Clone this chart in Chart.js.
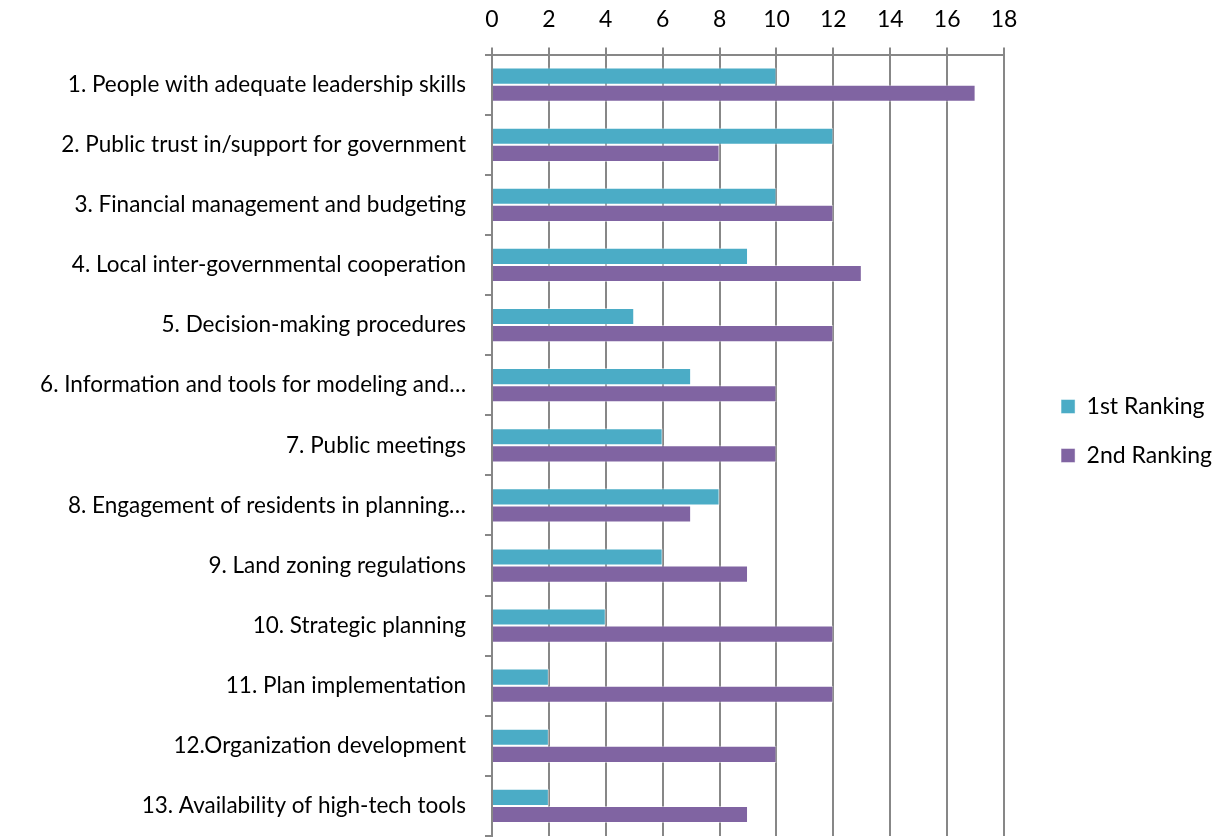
<!DOCTYPE html>
<html>
<head>
<meta charset="utf-8">
<script src="https://cdn.jsdelivr.net/npm/chart.js@4"></script>
<style>
  html, body { margin: 0; padding: 0; background: #fff; }
  #wrap { width: 1225px; height: 840px; }
</style>
</head>
<body>
<div id="wrap"><canvas id="chart"></canvas></div>
<script>
// data
var categories = [
  "1. People with adequate leadership skills",
  "2. Public trust in/support for government",
  "3. Financial management and budgeting",
  "4. Local inter-governmental cooperation",
  "5. Decision-making procedures",
  "6. Information and tools for modeling and\u2026",
  "7. Public meetings",
  "8. Engagement of residents in planning\u2026",
  "9. Land zoning regulations",
  "10. Strategic planning",
  "11. Plan implementation",
  "12.Organization development",
  "13. Availability of high-tech tools"
];
var firstRanking = [10, 12, 10, 9, 5, 7, 6, 8, 6, 4, 2, 2, 2];
var secondRanking = [17, 8, 12, 13, 12, 10, 10, 7, 9, 12, 12, 10, 9];
var xTicks = [0, 2, 4, 6, 8, 10, 12, 14, 16, 18];

var font = "Lato";
var gridGray = "#878787";

// move the legend a bit right and down inside its box, like the original
var legendShift = {
  id: 'legendShift',
  afterLayout: function (chart) {
    chart.legend.left += 31;
    chart.legend.right += 31;
    chart.legend.top += 17;
    chart.legend.bottom += 17;
  }
};

var ctx = document.getElementById("chart").getContext('2d');
var chart = new Chart(ctx, {
  type: 'bar',
  data: {
    labels: categories,
    datasets: [{
      label: "1st Ranking",
      data: firstRanking,
      backgroundColor: "#4BACC6",
      borderColor: "rgba(255,255,255,0.45)",
      borderWidth: 1
    }, {
      label: "2nd Ranking",
      data: secondRanking,
      backgroundColor: "#8064A2",
      borderColor: "rgba(255,255,255,0.45)",
      borderWidth: 1
    }]
  },
  options: {
    indexAxis: 'y',
    responsive: true,
    maintainAspectRatio: false,
    animation: false,
    categoryPercentage: 0.57,
    barPercentage: 1.0,
    layout: { padding: { top: -8, right: 34, bottom: 4, left: 0 } },
    plugins: {
      legend: {
        position: 'right',
        labels: {
          font: { family: font, size: 23 },
          color: "#000",
          boxWidth: 14,
          boxHeight: 14,
          padding: 26
        }
      },
      tooltip: { enabled: false }
    },
    scales: {
      x: {
        position: 'top',
        min: 0,
        max: 18,
        afterBuildTicks: function (axis) {
          axis.ticks = xTicks.map(function (v) { return { value: v }; });
        },
        grid: { color: gridGray, lineWidth: 2, tickLength: 7 },
        border: { color: gridGray, width: 2 },
        ticks: { font: { family: font, size: 23 }, color: "#000", padding: 14 }
      },
      y: {
        afterFit: function (axis) {
          axis.width = 492;
          axis.paddingTop = 0;
          axis.paddingBottom = 0;
        },
        grid: { offset: true, drawOnChartArea: false, color: gridGray, lineWidth: 2, tickLength: 7 },
        border: { color: gridGray, width: 2 },
        ticks: { font: { family: font, size: 22.5 }, color: "#000", padding: 19, autoSkip: false }
      }
    }
  },
  plugins: [legendShift]
});
</script>
</body>
</html>
